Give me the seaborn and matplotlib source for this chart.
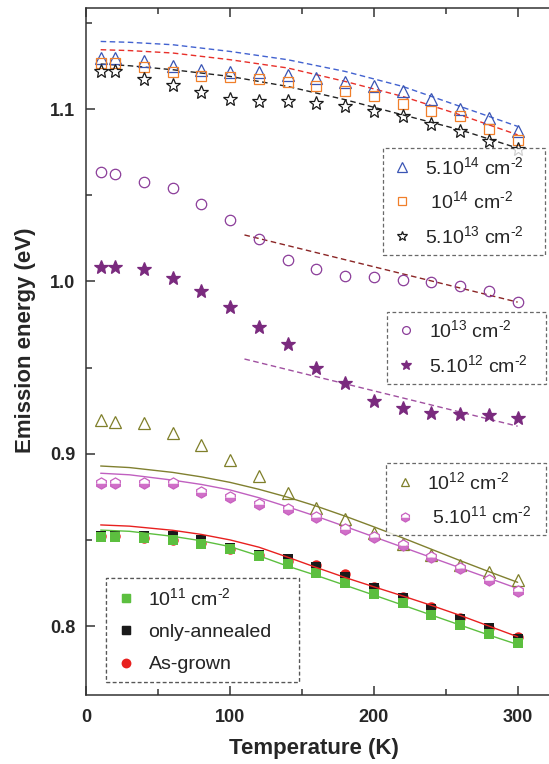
import seaborn as sns
import matplotlib.pyplot as plt
from matplotlib.lines import Line2D
from matplotlib.ticker import MultipleLocator
import numpy as np
import pandas as pd

# temperatures of the measured points (K)
temp = [10, 20, 40, 60, 80, 100, 120, 140, 160, 180, 200, 220, 240, 260, 280, 300]

# emission energy (eV) for each fluence / sample
e_5e14 = [1.1297, 1.1297, 1.1277, 1.1248, 1.1229, 1.1213, 1.1213, 1.120, 1.1181, 1.1157, 1.1132, 1.1103, 1.1061, 1.1002, 1.0948, 1.0871]
e_1e14 = [1.1268, 1.1268, 1.1245, 1.1215, 1.1194, 1.1184, 1.1175, 1.1157, 1.1136, 1.1107, 1.1074, 1.1031, 1.0991, 1.0958, 1.0885, 1.0822]
e_5e13 = [1.1223, 1.1223, 1.1177, 1.1138, 1.1097, 1.1061, 1.1049, 1.1045, 1.1035, 1.1016, 1.0987, 1.0958, 1.0914, 1.0875, 1.0818, 1.077]
e_1e13 = [1.0637, 1.0625, 1.058, 1.0544, 1.0447, 1.0358, 1.0247, 1.0125, 1.0075, 1.0034, 1.0026, 1.0009, 0.9998, 0.9976, 0.9945, 0.9883]
e_5e12 = [1.0083, 1.0083, 1.0072, 1.0023, 0.9945, 0.9849, 0.9733, 0.9638, 0.950, 0.9409, 0.9307, 0.9266, 0.9239, 0.9233, 0.9225, 0.9206]
e_1e12 = [0.9196, 0.9187, 0.9177, 0.9123, 0.9051, 0.8964, 0.8871, 0.8774, 0.8687, 0.862, 0.8538, 0.8474, 0.8412, 0.8354, 0.8315, 0.8267]
e_5e11 = [0.8832, 0.8832, 0.8832, 0.8832, 0.8776, 0.8751, 0.8707, 0.8679, 0.8631, 0.8561, 0.8515, 0.847, 0.8403, 0.8335, 0.8267, 0.8203]
e_1e11 = [0.8515, 0.8515, 0.851, 0.8499, 0.8476, 0.8445, 0.8407, 0.836, 0.831, 0.8252, 0.8184, 0.8132, 0.8064, 0.8006, 0.7954, 0.7903]
e_annealed = [0.852, 0.852, 0.852, 0.852, 0.850, 0.8455, 0.841, 0.8387, 0.8344, 0.8286, 0.8219, 0.8161, 0.8097, 0.8039, 0.7987, 0.7925]
e_grown = [0.852, 0.852, 0.851, 0.850, 0.848, 0.845, 0.841, 0.838, 0.8354, 0.8302, 0.8228, 0.817, 0.8112, 0.8048, 0.7987, 0.7938]

# fitted curves, high fluences (dashed)
temp_fit_hi = [10, 30, 60, 100, 140, 180, 220, 260, 300]
fit_5e14 = [1.1393, 1.1388, 1.1374, 1.1335, 1.1287, 1.1219, 1.1132, 1.1016, 1.090]
fit_1e14 = [1.1345, 1.1340, 1.1326, 1.1287, 1.1239, 1.1161, 1.1074, 1.0967, 1.0851]
fit_5e13 = [1.1262, 1.1252, 1.1229, 1.119, 1.1132, 1.1055, 1.0967, 1.088, 1.0774]

# fitted curves, low fluences (solid)
temp_fit = [10, 30, 60, 80, 100, 120, 140, 160, 180, 200, 220, 240, 260, 280, 300]
fit_1e12 = [0.8929, 0.8920, 0.8892, 0.8866, 0.8834, 0.8794, 0.8748, 0.8696, 0.8638, 0.8576, 0.8512, 0.8446, 0.8380, 0.8316, 0.8254]
fit_5e11 = [0.8887, 0.8878, 0.8847, 0.8822, 0.8790, 0.8745, 0.8692, 0.8637, 0.8578, 0.8518, 0.8458, 0.8398, 0.8338, 0.8278, 0.8218]
fit_grown = [0.8587, 0.8580, 0.8556, 0.8532, 0.8500, 0.8458, 0.8400, 0.8340, 0.8282, 0.8228, 0.8175, 0.8120, 0.8062, 0.8000, 0.7938]
fit_1e11 = [0.8557, 0.8550, 0.8521, 0.8495, 0.8461, 0.8408, 0.8348, 0.8294, 0.8237, 0.8180, 0.8122, 0.8064, 0.8006, 0.7948, 0.7893]

# linear guides at high temperature
temp_lin = [110, 300]
lin_1e13 = [1.027, 0.988]
lin_5e12 = [0.955, 0.916]

sns.set_style('ticks')
plt.rcParams['font.family'] = ['Liberation Sans', 'DejaVu Sans']
plt.rcParams['mathtext.fontset'] = 'custom'
plt.rcParams['mathtext.rm'] = 'Liberation Sans'
plt.rcParams['mathtext.it'] = 'Liberation Sans:italic'
plt.rcParams['mathtext.default'] = 'regular'

fig = plt.figure(figsize=(5.49, 7.64), dpi=100)
ax = fig.add_axes([86.3 / 549, 69 / 764, 464.7 / 549, 687.5 / 764])

dash = (0, (4, 2.5))
cm2 = r' cm$^{\text{-}2}$'

# fit lines
sns.lineplot(x=temp_fit_hi, y=fit_5e14, color='#4262d0', linestyle=dash, lw=1, ax=ax)
sns.lineplot(x=temp_fit_hi, y=fit_1e14, color='#e8302a', linestyle=dash, lw=1, ax=ax)
sns.lineplot(x=temp_fit_hi, y=fit_5e13, color='#222222', linestyle=dash, lw=1, ax=ax)
sns.lineplot(x=temp_lin, y=lin_1e13, color='#8b2525', linestyle=dash, lw=1, ax=ax)
sns.lineplot(x=temp_lin, y=lin_5e12, color='#a050a0', linestyle=dash, lw=1, ax=ax)
sns.lineplot(x=temp_fit, y=fit_1e12, color='#808030', lw=1, ax=ax)
sns.lineplot(x=temp_fit, y=fit_5e11, color='#c060c0', lw=1, ax=ax)

# series: (values, marker, size, face, edge, label)
series = [
    (e_5e14, '^', 9, 'none', '#3a55b4', '5.10$^{14}$' + cm2),
    (e_1e14, 's', 7.5, 'none', '#f07f2a', ' 10$^{14}$' + cm2),
    (e_5e13, '*', 10.5, 'none', '#1a1a1a', '5.10$^{13}$' + cm2),
    (e_1e13, 'o', 7.5, 'none', '#8b3d99', '10$^{13}$' + cm2),
    (e_5e12, '*', 10.5, '#7a2a7e', '#7a2a7e', '5.10$^{12}$' + cm2),
    (e_1e12, '^', 8.5, 'none', '#7f7f2a', '10$^{12}$' + cm2),
]
handles = []
for vals, mk, ms, fc, ec, lab in series:
    sns.lineplot(x=temp, y=vals, marker=mk, markersize=ms, linestyle='none',
                 markerfacecolor=fc, markeredgecolor=ec, markeredgewidth=0.9, ax=ax)
    handles.append(Line2D([], [], marker=mk, markersize=ms * 0.75, linestyle='none',
                          markerfacecolor=fc, markeredgecolor=ec, markeredgewidth=0.9, label=lab))

# half filled hexagons
sns.lineplot(x=temp, y=e_5e11, marker='h', markersize=8, linestyle='none', fillstyle='bottom',
             markerfacecolor='#d070c8', markerfacecoloralt='white', markeredgecolor='#c860c0',
             markeredgewidth=0.9, ax=ax)
handles.append(Line2D([], [], marker='h', markersize=6.5, linestyle='none', fillstyle='bottom',
                      markerfacecolor='#d070c8', markerfacecoloralt='white', markeredgecolor='#c860c0',
                      markeredgewidth=0.9, label=' 5.10$^{11}$' + cm2))

# lowest group: as-grown below, annealed, then 10^11
sns.lineplot(x=temp, y=e_grown, marker='o', markersize=7.5, linestyle='none',
             color='#e8201f', markeredgecolor='#e8201f', markeredgewidth=0, ax=ax)
sns.lineplot(x=temp, y=e_annealed, marker='s', markersize=6.5, linestyle='none',
             color='#1a1a1a', markeredgecolor='#1a1a1a', markeredgewidth=0, ax=ax)
sns.lineplot(x=temp, y=e_1e11, marker='s', markersize=7, linestyle='none',
             color='#5cbf3f', markeredgecolor='#5cbf3f', markeredgewidth=0, ax=ax)
sns.lineplot(x=temp_fit, y=fit_grown, color='#e8201f', lw=1, ax=ax)
sns.lineplot(x=temp_fit, y=fit_1e11, color='#5cbf3f', lw=1, ax=ax)
handles.append(Line2D([], [], marker='s', markersize=5.5, linestyle='none', color='#5cbf3f',
                      label='10$^{11}$' + cm2))
handles.append(Line2D([], [], marker='s', markersize=5.5, linestyle='none', color='#1a1a1a',
                      label='only-annealed'))
handles.append(Line2D([], [], marker='o', markersize=6, linestyle='none', color='#e8201f',
                      label='As-grown'))

ax.set_xlim(0, 323.2)
ax.set_ylim(0.76, 1.159)
ax.xaxis.set_major_locator(MultipleLocator(100))
ax.xaxis.set_minor_locator(MultipleLocator(50))
ax.yaxis.set_major_locator(MultipleLocator(0.1))
ax.yaxis.set_minor_locator(MultipleLocator(0.05))
ax.tick_params(which='both', direction='in', top=True, right=False, width=1.1, color='#333333')
ax.tick_params(which='major', length=6.5, labelsize=13)
ax.tick_params(axis='x', which='major', pad=10)
ax.tick_params(axis='y', which='major', pad=8)
ax.tick_params(which='minor', length=4)
for lab in ax.get_xticklabels() + ax.get_yticklabels():
    lab.set_fontweight('bold')
for side in ['left', 'bottom', 'top']:
    ax.spines[side].set_linewidth(1.1)
    ax.spines[side].set_color('#333333')
ax.spines['right'].set_visible(False)

ax.set_xlabel('Temperature (K)', fontsize=16, fontweight='bold', labelpad=9)
ax.set_ylabel('Emission energy (eV)', fontsize=16, fontweight='bold', labelpad=10)
ax.xaxis.label.set_x(0.49)
ax.yaxis.label.set_y(0.516)


def box(hs, x, y, w, gap=0.65, pad=0.4):
    leg = ax.legend(handles=hs, loc='upper left', bbox_to_anchor=(x, y, w, 0), mode='expand',
                    borderaxespad=0, fontsize=14, frameon=True, fancybox=False, borderpad=pad,
                    handlelength=1.2, handletextpad=0.55, labelspacing=gap)
    fr = leg.get_frame()
    fr.set_edgecolor('#444444')
    fr.set_linestyle((0, (3, 2)))
    fr.set_linewidth(0.9)
    ax.add_artist(leg)
    return leg


box(handles[0:3], 0.638, 0.7956, 0.349)
box(handles[3:5], 0.647, 0.5578, 0.342)
box(handles[5:7], 0.644, 0.337, 0.345)
box(handles[7:10], 0.0417, 0.1697, 0.4166, gap=0.75, pad=0.45)

fig.savefig('out.png', dpi=100)
